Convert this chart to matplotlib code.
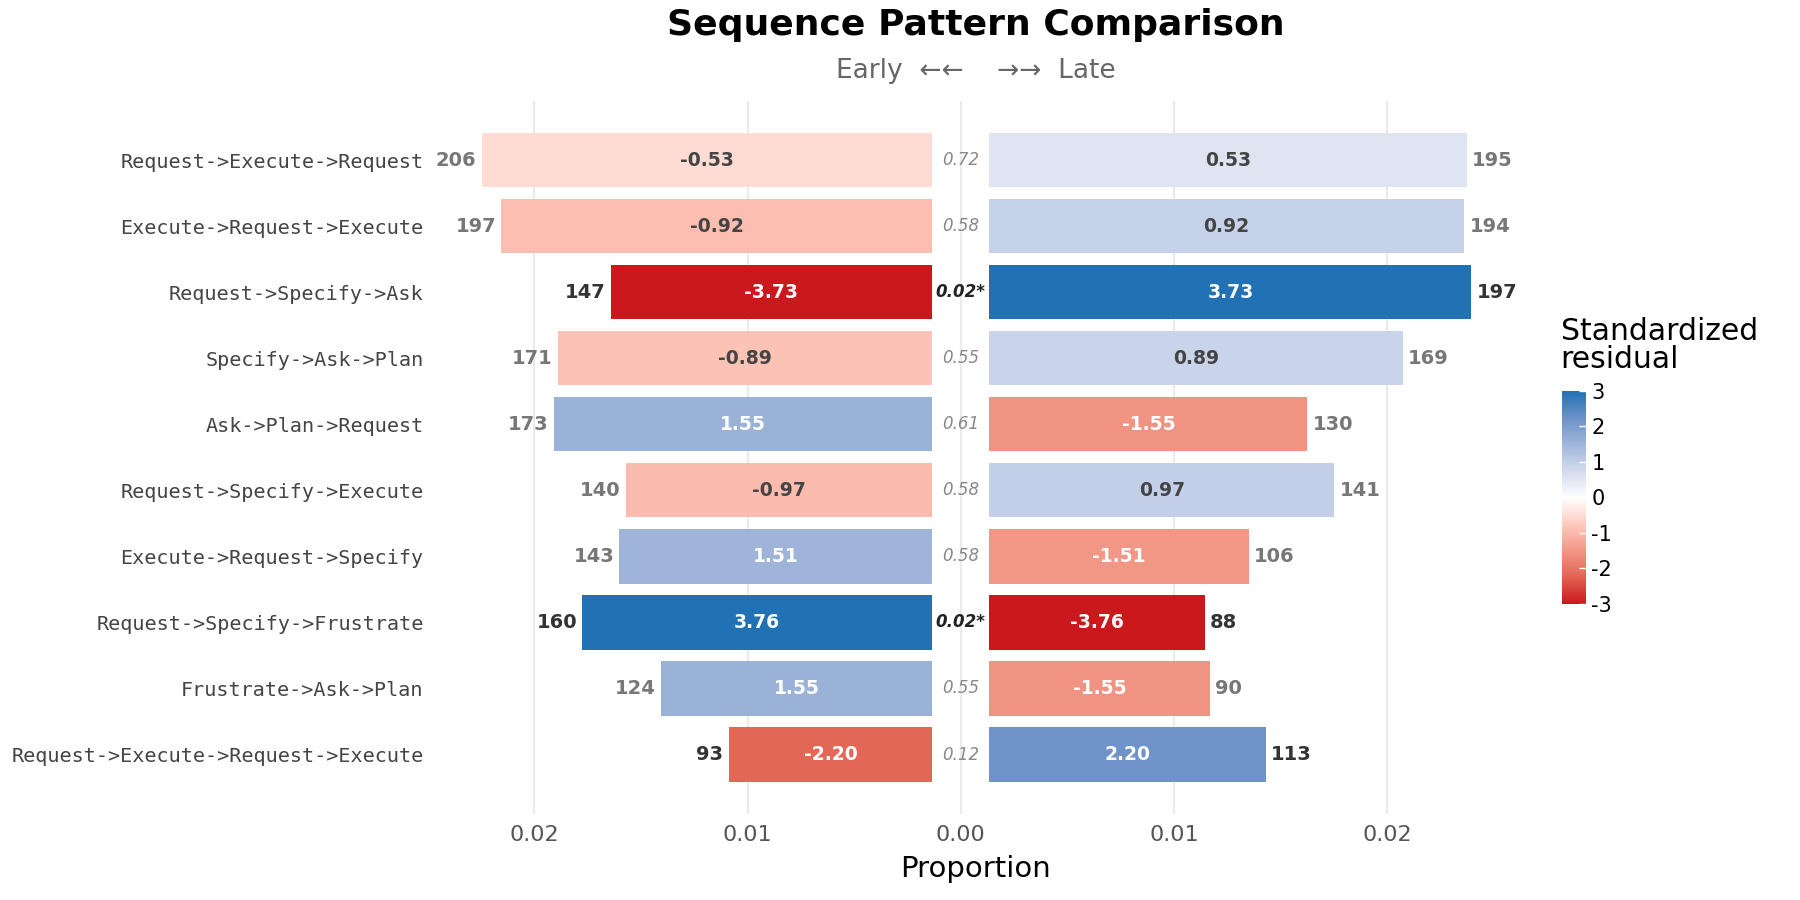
import matplotlib
matplotlib.use("Agg")
import matplotlib.pyplot as plt
from matplotlib.colors import LinearSegmentedColormap, Normalize
from matplotlib.cm import ScalarMappable
import numpy as np

# rows top -> bottom
patterns = ["Request->Execute->Request", "Execute->Request->Execute",
            "Request->Specify->Ask", "Specify->Ask->Plan", "Ask->Plan->Request",
            "Request->Specify->Execute", "Execute->Request->Specify",
            "Request->Specify->Frustrate", "Frustrate->Ask->Plan",
            "Request->Execute->Request->Execute"]
early_n = [206, 197, 147, 171, 173, 140, 143, 160, 124, 93]
late_n = [195, 194, 197, 169, 130, 141, 106, 88, 90, 113]
early_resid = [-0.53, -0.92, -3.73, -0.89, 1.55, -0.97, 1.51, 3.76, 1.55, -2.20]
late_resid = [0.53, 0.92, 3.73, 0.89, -1.55, 0.97, -1.51, -3.76, -1.55, 2.20]
p_values = [0.72, 0.58, 0.02, 0.55, 0.61, 0.58, 0.58, 0.02, 0.55, 0.12]
EARLY_TOTAL = 9750
LATE_TOTAL = 8710

early_prop = np.array(early_n) / EARLY_TOTAL
late_prop = np.array(late_n) / LATE_TOTAL

GAP = 0.00134  # half-width of centre column
cmap = LinearSegmentedColormap.from_list("resid", [
    (0.0, "#CB181D"), (0.133, "#E26756"), (0.242, "#F19483"),
    (0.347, "#FCBFB2"), (0.412, "#FEDBD3"), (0.5, "#FFFFFF"),
    (0.588, "#DFE4F3"), (0.653, "#C7D2EA"), (0.758, "#9CB3D8"),
    (0.867, "#6F93C8"), (1.0, "#2171B5")])
norm = Normalize(-3, 3)

fig = plt.figure(figsize=(18, 9), dpi=100)
ax = fig.add_axes([0.24, 0.0956, 0.604, 0.7924])

y = np.arange(len(patterns))
H = 0.82
ax.barh(y, -early_prop, left=-GAP, height=H,
        color=cmap(norm(np.clip(early_resid, -3, 3))), zorder=2)
ax.barh(y, late_prop, left=GAP, height=H,
        color=cmap(norm(np.clip(late_resid, -3, 3))), zorder=2)

for i in range(len(patterns)):
    for side, prop, n, r in ((-1, early_prop[i], early_n[i], early_resid[i]),
                             (1, late_prop[i], late_n[i], late_resid[i])):
        end = side * (GAP + prop)
        ncol = "#333333" if abs(r) >= 2 else "#777777"
        ax.text(end + side * 0.00025, i, str(n), ha="left" if side > 0 else "right",
                va="center", fontsize=14, fontweight="bold", color=ncol, zorder=3)
        rcol = "white" if abs(r) >= 1 else "#444444"
        ax.text(side * (GAP + prop / 2), i, f"{r:.2f}", ha="center", va="center",
                fontsize=13.5, fontweight="bold", color=rcol, zorder=3)
    if p_values[i] < 0.05:
        ax.text(0, i, f"{p_values[i]:.2f}*", ha="center", va="center", fontsize=12,
                style="italic", fontweight="bold", color="#222222", zorder=3)
    else:
        ax.text(0, i, f"{p_values[i]:.2f}", ha="center", va="center", fontsize=12,
                style="italic", color="#888888", zorder=3)

ax.set_xlim(-0.0248, 0.0262)
ax.set_ylim(9.9, -0.9)
ax.set_yticks(y)
ax.set_yticklabels(patterns, family="DejaVu Sans Mono", fontsize=14.5, color="#444444")
ticks = [-0.02, -0.01, 0, 0.01, 0.02]
ax.set_xticks(ticks)
ax.set_xticklabels([f"{abs(t):.2f}" for t in ticks], fontsize=16, color="#555555")
ax.tick_params(length=0, pad=8)
ax.tick_params(axis="y", pad=6)
ax.grid(axis="x", color="#EBEBEB", linewidth=1.6, zorder=0)
ax.set_axisbelow(True)
for s in ax.spines.values():
    s.set_visible(False)
ax.set_xlabel("Proportion", fontsize=21, labelpad=7)

fig.text(0.542, 0.972, "Sequence Pattern Comparison", ha="center", va="center",
         fontsize=26, fontweight="bold")
fig.text(0.542, 0.921, "Early  ←←    →→  Late", ha="center", va="center",
         fontsize=19, color="#666666")

# colour bar legend
cax = fig.add_axes([0.868, 0.329, 0.0133, 0.237])
cb = fig.colorbar(ScalarMappable(norm=norm, cmap=cmap), cax=cax,
                  ticks=[-3, -2, -1, 0, 1, 2, 3])
cb.outline.set_visible(False)
cb.ax.tick_params(labelsize=15, color="white", direction="in", length=5, width=1)
cb.ax.set_yticklabels(["-3", "-2", "-1", "0", "1", "2", "3"])
fig.text(0.867, 0.585, "Standardized\nresidual", ha="left", va="bottom",
         fontsize=21.5, linespacing=0.95)

fig.savefig("out.png", dpi=100)
